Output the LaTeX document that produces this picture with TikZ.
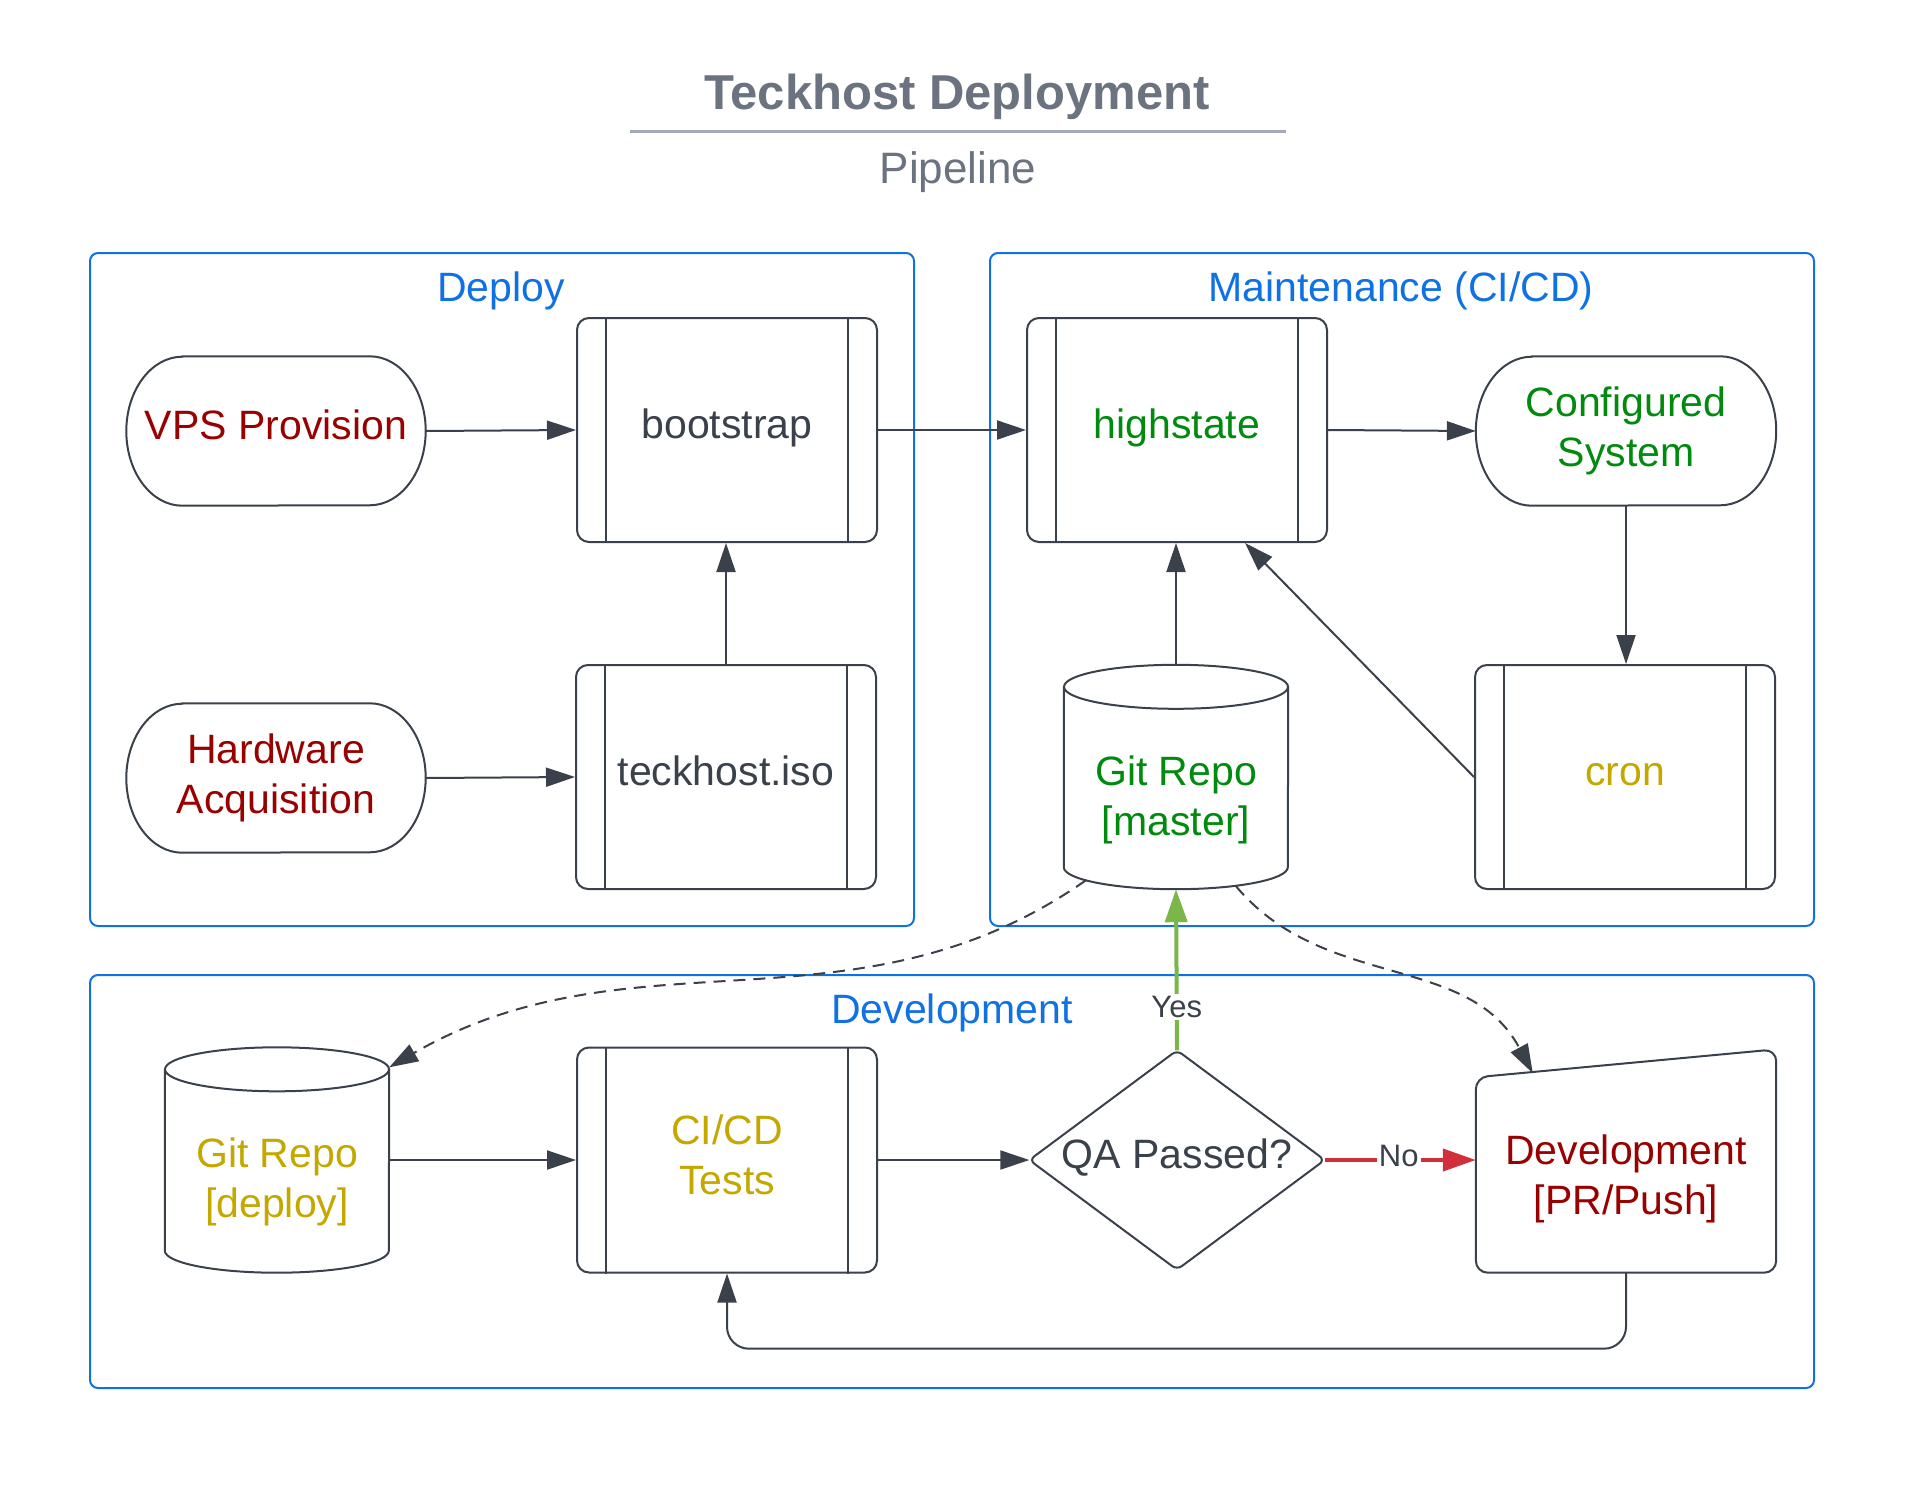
\documentclass[tikz,border=0pt]{standalone}
\usepackage{fontspec}
\setmainfont{Liberation Sans}
\usetikzlibrary{arrows.meta,calc}
\definecolor{ink}{HTML}{3A414A}
\definecolor{grp}{HTML}{1071E5}
\definecolor{dred}{HTML}{990000}
\definecolor{dgreen}{HTML}{008A0E}
\definecolor{olive}{HTML}{C4A800}
\definecolor{titlegray}{HTML}{6B7380}
\definecolor{rulegray}{HTML}{A3AAB5}
\definecolor{yesgreen}{HTML}{7AB648}
\definecolor{nored}{HTML}{D0303C}
\tikzset{
  box/.style={rectangle, inner sep=0pt, align=center, font=\fontsize{41}{50}\selectfont, text=ink},
  oneline/.style={text height=28pt, text depth=11pt},
  proc/.style={box, draw=ink, line width=2pt, rounded corners=12pt, minimum width=300pt, minimum height=224pt},
  term/.style={box, minimum width=299pt, minimum height=149pt},
  cylbox/.style={box, minimum width=224pt, minimum height=224pt},
  outline/.style={draw=ink, line width=2pt},
  group/.style={draw=grp, line width=2pt, rounded corners=8pt},
  grouplabel/.style={text=grp, font=\fontsize{41}{50}\selectfont, inner sep=0pt},
  conn/.style={draw=ink, line width=2pt, -{Triangle[length=29pt,width=19pt]}},
  colconn/.style={line width=4pt, -{Triangle[length=33pt,width=22pt]}},
  dashconn/.style={conn, dash pattern=on 12pt off 8pt},
  edgelabel/.style={fill=white, text=ink, font=\fontsize{31}{36}\selectfont, inner sep=2pt},
}
\newcommand\procbars[1]{%
  \draw[outline] ($(#1.north west)+(30,0)$) -- ($(#1.south west)+(30,0)$)
                 ($(#1.north east)+(-30,0)$) -- ($(#1.south east)+(-30,0)$);}
\newcommand\termshape[1]{%
  \draw[outline] ($(#1.north west)+(56,0)$) -- ($(#1.north east)+(-56,0)$)
    arc[start angle=90,end angle=-90,x radius=56,y radius=74.5]
    -- ($(#1.south west)+(56,0)$)
    arc[start angle=270,end angle=90,x radius=56,y radius=74.5] -- cycle;}
\newcommand\cylshape[1]{%
  \draw[outline] ($(#1.north west)+(0,-22)$) -- ($(#1.south west)+(0,22)$)
    arc[start angle=180,end angle=360,x radius=112,y radius=22]
    -- ($(#1.north east)+(0,-22)$);
  \draw[outline] ($(#1.north)+(0,-22)$) ellipse[x radius=112,y radius=22];}
\begin{document}
\begin{tikzpicture}[x=1pt,y=1pt]
\useasboundingbox (0,0) rectangle (1926,-1498);
\fill[white] (0,0) rectangle (1926,-1498);

% title
\node[text=titlegray, font=\fontsize{49}{56}\selectfont\bfseries, inner sep=0pt] (title) at (957,-97) {Teckhost Deployment};
\draw[rulegray, line width=3pt] (630,-132) -- (1286,-132);
\node[text=titlegray, font=\fontsize{44}{52}\selectfont, inner sep=0pt] (subtitle) at (958,-172) {Pipeline};

% groups
\draw[group] (90,-253) rectangle (914,-926);
\draw[group] (990,-253) rectangle (1814,-926);
\draw[group] (90,-975) rectangle (1814,-1388);
\node[grouplabel] (gdeploy) at (501,-291) {Deploy};
\node[grouplabel] (gmaint) at (1401,-291) {Maintenance (CI/CD)};
\node[grouplabel] (gdev) at (952,-1013) {Development};

% Deploy
\node[term, oneline, text=dred] (vps) at (276,-431) {VPS Provision};
\termshape{vps}
\node[proc, oneline] (boot) at (727,-430) {bootstrap};
\procbars{boot}
\node[term, text=dred] (hw) at (276,-778) {Hardware\\Acquisition};
\termshape{hw}
\node[proc, oneline] (iso) at (726,-777) {teckhost.iso};
\procbars{iso}

% Maintenance
\node[proc, oneline, text=dgreen] (hs) at (1177,-430) {highstate};
\procbars{hs}
\node[term, minimum width=300pt, text=dgreen] (cfg) at (1626,-431) {Configured\\System};
\termshape{cfg}
\node[proc, oneline, text=olive] (cron) at (1625,-777) {cron};
\procbars{cron}
\node[cylbox] (gm) at (1176,-777) {};
\cylshape{gm}
\node[box, text=dgreen] (gmtext) at (1176,-800) {Git Repo\\{[master]}};

% Development
\node[cylbox, minimum height=225pt] (gd) at (277,-1160) {};
\cylshape{gd}
\node[box, text=olive] (gdtext) at (277,-1182) {Git Repo\\{[deploy]}};
\node[proc, minimum height=225pt] (ci) at (727,-1160) {};
\procbars{ci}
\node[box, text=olive] (citext) at (727,-1155) {CI/CD\\Tests};
\node[box, oneline, minimum width=295pt, minimum height=219pt] (qa) at (1177,-1160) {QA Passed?};
\draw[outline, rounded corners=6pt] (qa.west) -- (qa.north) -- (qa.east) -- (qa.south) -- cycle;
\node[box, minimum width=300pt, minimum height=225pt] (dev) at (1626,-1160) {};
\draw[outline, rounded corners=12pt] (dev.south west) -- ($(dev.north west)+(0,-30)$) -- ($(dev.north east)+(0,-2)$) -- (dev.south east) -- cycle;
\node[box, text=dred] (devtext) at (1626,-1179) {Development\\{[PR/Push]}};

% connectors
\draw[conn] (vps.east) -- (boot.west);
\draw[conn] (boot.east) -- (hs.west);
\draw[conn] (hw.east) -- (iso.west);
\draw[conn] (iso.north) -- (iso.north |- boot.south);
\draw[conn] (hs.east) -- (cfg.west);
\draw[conn] (cfg.south) -- (cfg.south |- cron.north);
\draw[conn] (cron.west) -- ($(hs.south)+(68,0)$);
\draw[conn] (gm.north) -- (gm.north |- hs.south);
\draw[conn] (gd.east) -- (ci.west);
\draw[conn] (ci.east) -- (qa.west);
\draw[colconn, draw=nored] (qa.east) -- (dev.west) node[edgelabel, pos=0.49, yshift=4pt] {No};
\draw[colconn, draw=yesgreen] (qa.north) -- (gm.south) node[edgelabel, pos=0.27] {Yes};
\draw[conn, rounded corners=22pt] (dev.south) -- ++(0,-76) -| (ci.south);
\draw[dashconn] ($(gm.south)+(-90,9)$) to[out=-145,in=30] ($(gd.north east)+(0,-20)$);
\draw[dashconn] ($(gm.south)+(60,3)$) to[out=-50,in=118] ($(dev.north west)+(57,-26)$);
\end{tikzpicture}
\end{document}
